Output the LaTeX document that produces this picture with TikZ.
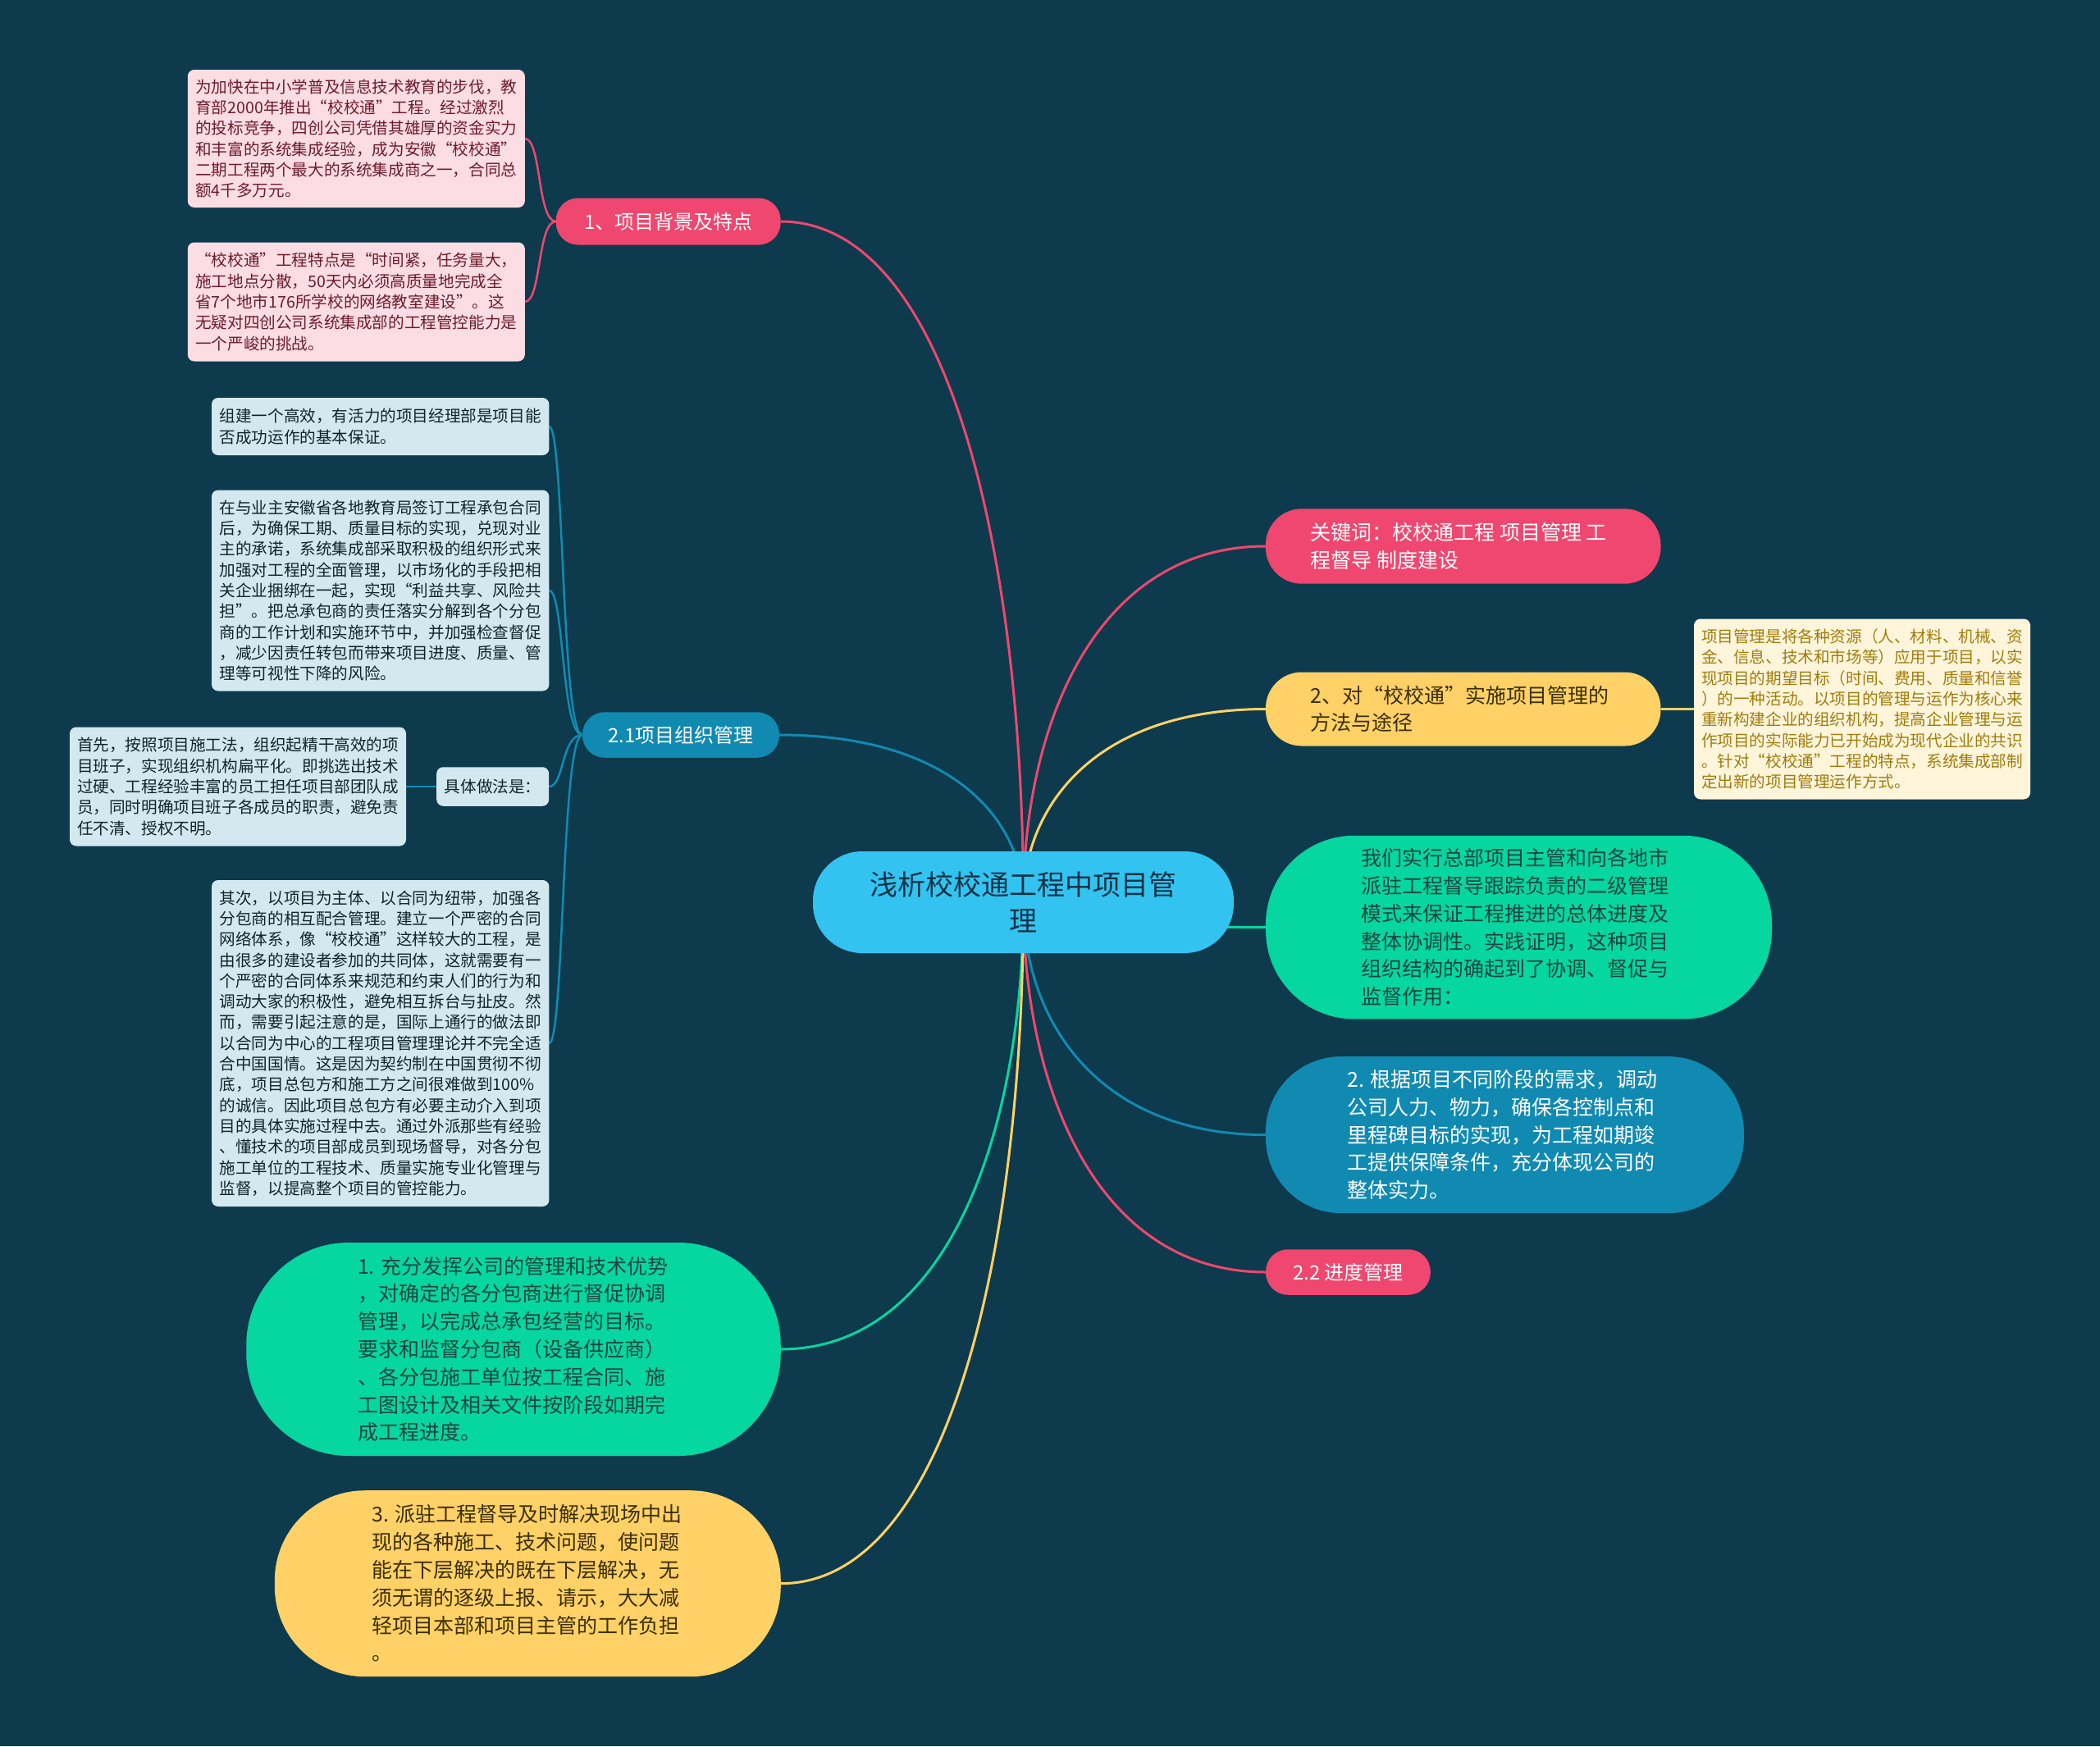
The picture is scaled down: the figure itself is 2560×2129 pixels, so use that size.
\documentclass[tikz,border=0pt]{standalone}
\usepackage{fontspec}
\setmainfont{Noto Sans CJK SC}
\usetikzlibrary{backgrounds}
\definecolor{bg}{HTML}{0D3A4C}
\definecolor{cred}{HTML}{EF476F}
\definecolor{cyel}{HTML}{FFD166}
\definecolor{cgrn}{HTML}{06D6A0}
\definecolor{cblu}{HTML}{118AB2}
\definecolor{ccen}{HTML}{33C3F1}
\definecolor{pinkfill}{HTML}{FCDDE3}
\definecolor{pinktext}{HTML}{6E1B2C}
\definecolor{bluefill}{HTML}{D4E8EF}
\definecolor{bluetext}{HTML}{10242C}
\definecolor{creamfill}{HTML}{FFF5DB}
\definecolor{creamtext}{HTML}{A07C0C}
\definecolor{yeltext}{HTML}{3A2E05}
\definecolor{grntext}{HTML}{17463F}
\definecolor{centext}{HTML}{0E3346}
\begin{document}
\begin{tikzpicture}[x=1pt,y=-1pt,
  every node/.style={inner sep=0pt, outer sep=0pt},
  smallfont/.style={font=\fontsize{19.6pt}{25.3pt}\selectfont},
  bigfont/.style={font=\fontsize{25pt}{33.8pt}\selectfont},
  labfont/.style={font=\fontsize{24pt}{30pt}\selectfont},
  pbox/.style={smallfont, fill=pinkfill, text=pinktext, rounded corners=8pt, align=left},
  bbox/.style={smallfont, fill=bluefill, text=bluetext, rounded corners=8pt, align=left},
  cbox/.style={smallfont, fill=creamfill, text=creamtext, rounded corners=8pt, align=left},
  redlab/.style={labfont, fill=cred, text=white, rounded corners=27pt, align=left},
  bluelab/.style={labfont, fill=cblu, text=white, rounded corners=27pt, align=left},
  pill/.style={bigfont, align=flush left},
  lnred/.style={draw=cred, line width=3pt},
  lnblu/.style={draw=cblu, line width=3pt},
  lnyel/.style={draw=cyel, line width=3pt},
  lngrn/.style={draw=cgrn, line width=3pt},
  subred/.style={draw=cred, line width=2.5pt},
  subblu/.style={draw=cblu, line width=2.5pt},
  subyel/.style={draw=cyel, line width=2.5pt}
]
\useasboundingbox (0,0) rectangle (2560,2129);

% central node
\node[fill=ccen, text=centext, rounded corners=60pt, minimum width=513, minimum height=124,
  font=\fontsize{34pt}{44pt}\selectfont, align=center] (root) at (1247.5,1100)
  {浅析校校通工程中项目管\\理};

% branch 1
\node[redlab, minimum width=274, minimum height=57] (n1) at (814.7,270) {1、项目背景及特点};
\node[pbox, minimum width=411, minimum height=168] (p1) at (434.3,169)
{为加快在中小学普及信息技术教育的步伐，教\\
育部2000年推出“校校通”工程。经过激烈\\
的投标竞争，四创公司凭借其雄厚的资金实力\\
和丰富的系统集成经验，成为安徽“校校通”\\
二期工程两个最大的系统集成商之一，合同总\\
额4千多万元。};
\node[pbox, minimum width=411, minimum height=145] (p2) at (434.3,368)
{“校校通”工程特点是“时间紧，任务量大，\\
施工地点分散，50天内必须高质量地完成全\\
省7个地市176所学校的网络教室建设”。这\\
无疑对四创公司系统集成部的工程管控能力是\\
一个严峻的挑战。};

% branch 2.1
\node[bluelab, minimum width=240, minimum height=55.5] (n21) at (830,896) {2.1项目组织管理};
\node[bbox, minimum width=411.4, minimum height=70] (b1) at (463.7,520)
{组建一个高效，有活力的项目经理部是项目能\\
否成功运作的基本保证。};
\node[bbox, minimum width=411.4, minimum height=245] (b2) at (463.7,720)
{在与业主安徽省各地教育局签订工程承包合同\\
后，为确保工期、质量目标的实现，兑现对业\\
主的承诺，系统集成部采取积极的组织形式来\\
加强对工程的全面管理，以市场化的手段把相\\
关企业捆绑在一起，实现“利益共享、风险共\\
担”。把总承包商的责任落实分解到各个分包\\
商的工作计划和实施环节中，并加强检查督促\\
，减少因责任转包而带来项目进度、质量、管\\
理等可视性下降的风险。};
\node[bbox, minimum width=137, minimum height=47.5] (b3) at (600.7,959) {具体做法是：};
\node[bbox, minimum width=410, minimum height=145] (b4) at (290,959)
{首先，按照项目施工法，组织起精干高效的项\\
目班子，实现组织机构扁平化。即挑选出技术\\
过硬、工程经验丰富的员工担任项目部团队成\\
员，同时明确项目班子各成员的职责，避免责\\
任不清、授权不明。};
\node[bbox, minimum width=411.4, minimum height=398] (b5) at (463.7,1272)
{其次，以项目为主体、以合同为纽带，加强各\\
分包商的相互配合管理。建立一个严密的合同\\
网络体系，像“校校通”这样较大的工程，是\\
由很多的建设者参加的共同体，这就需要有一\\
个严密的合同体系来规范和约束人们的行为和\\
调动大家的积极性，避免相互拆台与扯皮。然\\
而，需要引起注意的是，国际上通行的做法即\\
以合同为中心的工程项目管理理论并不完全适\\
合中国国情。这是因为契约制在中国贯彻不彻\\
底，项目总包方和施工方之间很难做到100\%\\
的诚信。因此项目总包方有必要主动介入到项\\
目的具体实施过程中去。通过外派那些有经验\\
、懂技术的项目部成员到现场督导，对各分包\\
施工单位的工程技术、质量实施专业化管理与\\
监督，以提高整个项目的管控能力。};

% bottom-left pills
\node[pill, text width=380, fill=cgrn, text=grntext, rounded corners=125pt, minimum width=651.5, minimum height=260] (g1) at (626,1645)
{1. 充分发挥公司的管理和技术优势\\
，对确定的各分包商进行督促协调\\
管理，以完成总承包经营的目标。\\
要求和监督分包商（设备供应商）\\
、各分包施工单位按工程合同、施\\
工图设计及相关文件按阶段如期完\\
成工程进度。};
\node[pill, text width=380, fill=cyel, text=yeltext, rounded corners=110pt, minimum width=617, minimum height=227] (y1) at (643.3,1930.7)
{3. 派驻工程督导及时解决现场中出\\
现的各种施工、技术问题，使问题\\
能在下层解决的既在下层解决，无\\
须无谓的逐级上报、请示，大大减\\
轻项目本部和项目主管的工作负担\\
。};

% right side
\node[pill, text width=372, fill=cred, text=white, rounded corners=44pt, minimum width=481.6, minimum height=91.4] (kw) at (1783.7,666)
{关键词：校校通工程 项目管理 工\\
程督导 制度建设};
\node[pill, text width=372, fill=cyel, text=yeltext, rounded corners=44pt, minimum width=481.6, minimum height=90] (n2) at (1783.7,864.5)
{2、对“校校通”实施项目管理的\\
方法与途径};
\node[cbox, minimum width=410, minimum height=220] (cr) at (2270,864.5)
{项目管理是将各种资源（人、材料、机械、资\\
金、信息、技术和市场等）应用于项目，以实\\
现项目的期望目标（时间、费用、质量和信誉\\
）的一种活动。以项目的管理与运作为核心来\\
重新构建企业的组织机构，提高企业管理与运\\
作项目的实际能力已开始成为现代企业的共识\\
。针对“校校通”工程的特点，系统集成部制\\
定出新的项目管理运作方式。};
\node[pill, text width=384, fill=cgrn, text=grntext, rounded corners=108pt, minimum width=617, minimum height=223.7] (g2) at (1851.5,1130.6)
{我们实行总部项目主管和向各地市\\
派驻工程督导跟踪负责的二级管理\\
模式来保证工程推进的总体进度及\\
整体协调性。实践证明，这种项目\\
组织结构的确起到了协调、督促与\\
监督作用：};
\node[pill, text width=384, fill=cblu, text=white, rounded corners=92pt, minimum width=583, minimum height=191] (bl2) at (1834.4,1383.6)
{2. 根据项目不同阶段的需求，调动\\
公司人力、物力，确保各控制点和\\
里程碑目标的实现，为工程如期竣\\
工提供保障条件，充分体现公司的\\
整体实力。};
\node[redlab, minimum width=200.8, minimum height=55.5] (n22) at (1643.4,1551) {2.2 进度管理};

\begin{pgfonlayer}{background}
\fill[bg] (0,0) rectangle (2560,2129);
% main connectors
\draw[lnred] (root.center) .. controls (1247.5,685) and (1158.8,270) .. (n1.east);
\draw[lnblu] (root.center) .. controls (1247.5,998) and (1158.3,896) .. (n21.east);
\draw[lnred] (root.center) .. controls (1247.5,883) and (1336.2,666) .. (kw.west);
\draw[lnyel] (root.center) .. controls (1247.5,982) and (1336.2,864.5) .. (n2.west);
\draw[lngrn] (root.center) .. controls (1247.5,1115) and (1336.2,1130.6) .. (g2.west);
\draw[lnblu] (root.center) .. controls (1247.5,1242) and (1336.2,1383.6) .. (bl2.west);
\draw[lnred] (root.center) .. controls (1247.5,1325.5) and (1336.2,1551) .. (n22.west);
\draw[lngrn] (root.center) .. controls (1247.5,1372.5) and (1158.8,1645) .. (g1.east);
\draw[lnyel] (root.center) .. controls (1247.5,1515) and (1158.8,1930.7) .. (y1.east);
% sub connectors
\draw[subred] (n1.west) .. controls (655,270) and (660,169) .. (p1.east);
\draw[subred] (n1.west) .. controls (655,270) and (660,368) .. (p2.east);
\draw[subblu] (n21.west) .. controls (684,896) and (688,520) .. (b1.east);
\draw[subblu] (n21.west) .. controls (684,896) and (688,720) .. (b2.east);
\draw[subblu] (n21.west) .. controls (684,896) and (688,959) .. (b3.east);
\draw[subblu] (n21.west) .. controls (684,896) and (688,1272) .. (b5.east);
\draw[subblu] (b3.west) -- (b4.east);
\draw[subyel] (n2.east) -- (cr.west);
\end{pgfonlayer}
\end{tikzpicture}
\end{document}
